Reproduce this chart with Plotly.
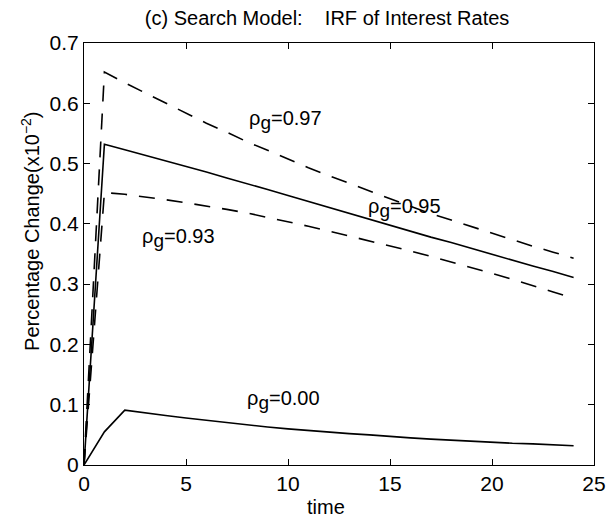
import plotly.graph_objects as go

t = list(range(0, 25))

rho_000 = [0.0, 0.055, 0.091, 0.086, 0.082, 0.078, 0.074, 0.070, 0.066, 0.063,
           0.060, 0.057, 0.054, 0.052, 0.050, 0.047, 0.045, 0.043, 0.041, 0.039,
           0.038, 0.036, 0.035, 0.033, 0.032]
rho_093 = [0.0, 0.452, 0.449, 0.445, 0.440, 0.435, 0.430, 0.424, 0.418, 0.411,
           0.404, 0.396, 0.388, 0.380, 0.372, 0.363, 0.355, 0.346, 0.337, 0.328,
           0.318, 0.308, 0.297, 0.287, 0.277]
rho_095 = [0.0, 0.532, 0.523, 0.514, 0.505, 0.495, 0.486, 0.476, 0.467, 0.457,
           0.447, 0.437, 0.427, 0.417, 0.408, 0.398, 0.388, 0.378, 0.369, 0.359,
           0.350, 0.340, 0.330, 0.321, 0.311]
rho_097 = [0.0, 0.652, 0.634, 0.617, 0.600, 0.583, 0.567, 0.552, 0.536, 0.522,
           0.507, 0.493, 0.480, 0.467, 0.454, 0.441, 0.429, 0.417, 0.406, 0.395,
           0.384, 0.373, 0.363, 0.353, 0.343]

labels = ["ρ<sub><span style='font-size:19px'>g</span></sub>=0.97",
          "ρ<sub><span style='font-size:19px'>g</span></sub>=0.95",
          "ρ<sub><span style='font-size:19px'>g</span></sub>=0.93",
          "ρ<sub><span style='font-size:19px'>g</span></sub>=0.00"]
label_x = [8.0, 13.8, 2.75, 7.9]
label_y = [0.572, 0.426, 0.376, 0.107]

x_ticks = [0, 5, 10, 15, 20, 25]
y_ticks = [0, 0.1, 0.2, 0.3, 0.4, 0.5, 0.6, 0.7]
y_tick_text = ["0", "0.1", "0.2", "0.3", "0.4", "0.5", "0.6", "0.7"]

FONT = "Liberation Sans, Arial, sans-serif"
dash = "16px,12px"

fig = go.Figure()
series = [(rho_097, dash), (rho_095, "solid"), (rho_093, dash), (rho_000, "solid")]
for ys, d in series:
    fig.add_trace(go.Scatter(x=t, y=ys, mode="lines",
                             line=dict(color="black", width=1.6, dash=d),
                             showlegend=False, hoverinfo="skip"))

for txt, lx, ly in zip(labels, label_x, label_y):
    fig.add_annotation(x=lx, y=ly, text=txt, showarrow=False, xanchor="left",
                       yanchor="middle", font=dict(family=FONT, size=20, color="black"))

# axis titles placed as paper annotations to match the reference offsets
fig.add_annotation(xref="paper", yref="paper", x=-0.106, y=0.5545,
                   text="Percentage Change(x10<sup>−2</sup>)", textangle=-90,
                   showarrow=False, xanchor="center", yanchor="middle",
                   font=dict(family=FONT, size=20, color="black"))
fig.add_annotation(xref="paper", yref="paper", x=0.4745, y=-0.099,
                   text="time", showarrow=False, xanchor="center", yanchor="middle",
                   font=dict(family=FONT, size=20, color="black"))

axis_common = dict(showline=True, linecolor="black", linewidth=1.2, mirror="ticks",
                   ticks="inside", ticklen=6, tickcolor="black", tickwidth=1.2,
                   showgrid=False, zeroline=False, automargin=False,
                   tickfont=dict(family=FONT, size=21, color="black"))

fig.update_layout(
    width=616, height=531,
    margin=dict(l=76, r=30, t=35, b=74),
    paper_bgcolor="white", plot_bgcolor="white",
    title=dict(text="(c) Search Model:\u00a0\u00a0\u00a0\u00a0IRF of Interest Rates",
               x=0.518, xanchor="center", y=0.981, yanchor="middle",
               font=dict(family=FONT, size=20, color="black")),
    xaxis=dict(range=[0, 25], tickvals=x_ticks, **axis_common),
    yaxis=dict(range=[0, 0.7], tickvals=y_ticks, ticktext=y_tick_text, **axis_common),
)

fig.write_html("out.html")
